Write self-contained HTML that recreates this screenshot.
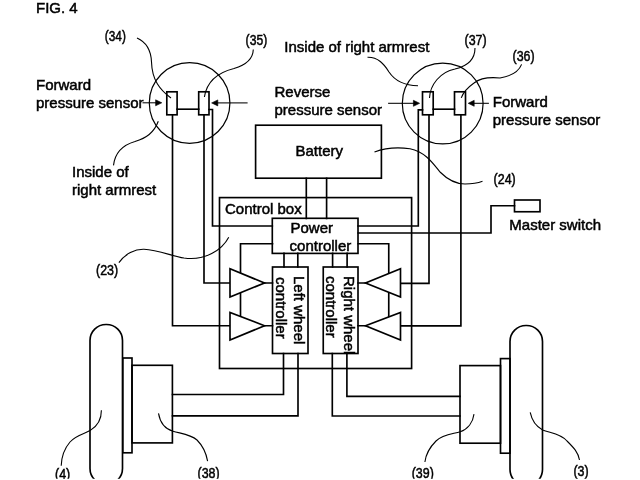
<!DOCTYPE html>
<html><head><meta charset="utf-8">
<style>
html,body{margin:0;padding:0;background:#fff;}
svg{display:block;will-change:transform;}
text{font-family:"Liberation Sans",sans-serif;font-size:15px;fill:#000;stroke:#000;stroke-width:0.5;}
.n{font-size:15px;}
</style></head><body>
<svg width="640" height="480" viewBox="0 0 640 480">
<g fill="none" stroke="#000" stroke-width="1.65" stroke-linecap="square">
<!-- circles -->
<circle cx="189.6" cy="103" r="40.3" stroke-width="1.2"/>
<circle cx="442.7" cy="103.5" r="40.4" stroke-width="1.2"/>
<!-- sensor rects left -->
<rect x="166.8" y="91.8" width="10.3" height="23"/>
<rect x="198.7" y="91.8" width="10.3" height="23"/>
<path d="M177.1,109.2H198.7"/>
<!-- sensor rects right -->
<rect x="422.5" y="91.8" width="10.7" height="23"/>
<rect x="454.5" y="91.8" width="11" height="23"/>
<path d="M433.2,109.2H454.5"/>
<!-- wires left -->
<path d="M172.5,114.8V325.75H230"/>
<path d="M204,114.8V283H230"/>
<path d="M209,109.5H212.5V226H272.3"/>
<!-- wires right -->
<path d="M460.9,114.8V325.9H400.5"/>
<path d="M429,114.8V283.4H400.5"/>
<path d="M422.5,109.8H418.3V226H358.1"/>
<!-- control box -->
<rect x="219.5" y="197.6" width="192.1" height="170.9"/>
<!-- battery -->
<rect x="255.6" y="125.2" width="125.8" height="53"/>
<path d="M306.3,178.2V218.3M326.6,178.2V218.3"/>
<!-- power controller -->
<rect x="272.3" y="218.3" width="85.7" height="35.1"/>
<path d="M272.5,243.75H240.5V317"/>
<path d="M358.25,243.75H388.75V317"/>
<path d="M284,253.3V267M297.8,253.3V267M332.6,253.3V267M347.1,253.3V267"/>
<!-- master switch -->
<path d="M358.25,233H491V205.75H514.5"/>
<rect x="514.5" y="200" width="25.5" height="11.75"/>
<!-- wheel controllers -->
<rect x="272.5" y="267" width="35.5" height="86.5"/>
<rect x="323.25" y="267" width="34.75" height="86.5"/>
<!-- triangles -->
<path d="M230,268.75V297L264.5,283Z" fill="#fff"/>
<path d="M230,312.5V340L264.5,325.75Z" fill="#fff"/>
<path d="M400.5,268.75V297L365.5,283Z" fill="#fff"/>
<path d="M400.5,312.5V340L365.5,325.75Z" fill="#fff"/>
<path d="M264.5,283H272.5M264.5,325.75H272.5M358,283H365.5M358,325.75H365.5"/>
<!-- to motors -->
<path d="M283.5,353.5V394.5H172.5"/>
<path d="M298,353.5V415.9H172.5"/>
<path d="M346.9,353.5V396.3H460"/>
<path d="M332.3,353.5V416H460"/>
<!-- motors / hubs / wheels -->
<rect x="132" y="365.3" width="40.4" height="77.6"/>
<rect x="122.8" y="358" width="9.2" height="94.8"/>
<rect x="90" y="324.5" width="32.5" height="160" rx="16" ry="16"/>
<rect x="460" y="365.6" width="40.5" height="77.6"/>
<rect x="500.5" y="358.6" width="9.5" height="94.6"/>
<rect x="510" y="325.5" width="32.5" height="160" rx="16" ry="16"/>
</g>
<!-- arrows -->
<g stroke="#000" stroke-width="1.05" fill="#000">
<path d="M142.5,102.8H157" />
<path d="M161.8,102.8L155.6,99.8V105.8Z" stroke-width="0.6"/>
<path d="M247.6,102.9H217"/>
<path d="M211.6,102.9L217.8,99.9V105.9Z" stroke-width="0.6"/>
<path d="M388.1,103.3H414"/>
<path d="M419.6,103.3L413.4,100.3V106.3Z" stroke-width="0.6"/>
<path d="M488.9,103.3H474"/>
<path d="M468.2,103.3L474.2,100.3V106.3Z" stroke-width="0.6"/>
</g>
<!-- leaders -->
<g fill="none" stroke="#000" stroke-width="1.1">
<path d="M137,38C146,42 151,50 151.5,62C152,80 160,90 171,98"/>
<path d="M253.3,49.5C253,58 246,65 234,68.5C220,72 207,80 204.4,97"/>
<path d="M158.3,121.3C154,133 146,138 135,141.5C123,145 115,152 113.5,165.4"/>
<path d="M118.9,262.6C125,254 135,249 144,249.3C158,250 172,256 184,258C205,261 222,250 228.75,237.2"/>
<path d="M475,48C475,60 468,66 455,69C440,72 430,85 429.5,98"/>
<path d="M521.6,64.4C519,71 512,76 500,78C490,77 481,77.5 474,83C467,88 463,93 461.25,97.9"/>
<path d="M367.5,57.3C378,57 384,64 389,72C395,81 404,85.5 418,85.8"/>
<path d="M374.5,152C385,148 398,147 410,148.75C425,152 432,162 440,172C448,180 455,184 465,184C472,184 478,183 482.5,181.25"/>
<path d="M101.4,410.2C101.5,420 96,427 90,430.6C84,434 76,435 70,442C64,449 61.5,456 61.2,465.8"/>
<path d="M158.5,413.4C160,422 165,429 173,431.2C180,433.5 190,434 197,440C203,446 206,452 207.6,461.2"/>
<path d="M474,414.1C473,422 468,429 460.2,431.8C453,434 443,434 436,441C430,447 426,453 424.9,462"/>
<path d="M530.2,412.4C532,421 537,427 542.6,429.9C549,433 560,433 567,441C574,448 578,452 579.5,460"/>
</g>
<!-- text -->
<text x="36" y="13">FIG. 4</text>
<text x="36" y="90">Forward</text>
<text x="36" y="107.8">pressure sensor</text>
<text x="72" y="177">Inside of</text>
<text x="72" y="195">right armrest</text>
<text x="284.3" y="52">Inside of right armrest</text>
<text x="274.5" y="96.6">Reverse</text>
<text x="274.5" y="114.9">pressure sensor</text>
<text x="492.75" y="106.6">Forward</text>
<text x="492.75" y="124.8">pressure sensor</text>
<text x="295.5" y="156">Battery</text>
<text x="225" y="213.5">Control box</text>
<text x="290.5" y="233">Power</text>
<text x="289.6" y="251">controller</text>
<text x="509.3" y="229.8">Master switch</text>
<text transform="translate(294,276) rotate(90)">Left wheel</text>
<text transform="translate(275.5,277) rotate(90)">controller</text>
<text transform="translate(343.75,276) rotate(90)">Right wheel</text>
<text transform="translate(325.5,276) rotate(90)">controller</text>
<g class="n">
<text transform="translate(104.8,40.6) scale(0.79,1)">(34)</text>
<text transform="translate(245.6,45.3) scale(0.81,1)">(35)</text>
<text transform="translate(464.5,44.6) scale(0.83,1)">(37)</text>
<text transform="translate(512.5,61) scale(0.83,1)">(36)</text>
<text transform="translate(493.6,183.6) scale(0.83,1)">(24)</text>
<text transform="translate(96,275.1) scale(0.83,1)">(23)</text>
<text transform="translate(55,478.8) scale(0.83,1)">(4)</text>
<text transform="translate(197.5,478.4) scale(0.83,1)">(38)</text>
<text transform="translate(411.7,478.2) scale(0.83,1)">(39)</text>
<text transform="translate(573.4,475.6) scale(0.83,1)">(3)</text>
</g>
<rect x="0" y="478.8" width="640" height="2" fill="#fff"/>
</svg>
</body></html>
